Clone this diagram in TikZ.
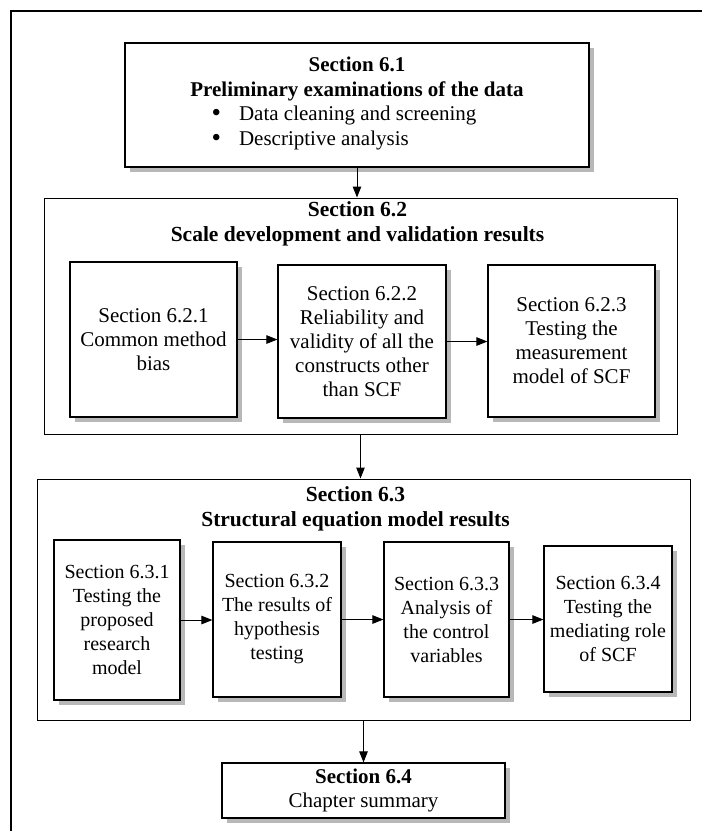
\documentclass[tikz,border=0pt]{standalone}
\usepackage{fontspec}
\setmainfont{Liberation Serif}
\usetikzlibrary{arrows.meta,shadows}

\newcommand{\bigdot}{\smash{\fontsize{27}{24}\selectfont\raisebox{-1pt}{\textbullet}}}

\begin{document}
\begin{tikzpicture}[x=1pt,y=-1pt,
  shbox/.style={draw, line width=1.2pt, fill=white, inner sep=2pt, align=center,
    drop shadow={shadow xshift=5pt, shadow yshift=-5pt, fill=black!28, opacity=1}},
  subtext/.style={font=\fontsize{20}{24}\selectfont},
  subtextl/.style={font=\fontsize{21}{24}\selectfont},
  headtext/.style={font=\fontsize{21.5}{24.5}\selectfont\bfseries, align=center, inner sep=0pt},
  group/.style={draw, line width=1pt},
  flow/.style={line width=1pt, -{Triangle[length=11pt, width=8.5pt]}}]

  % page extent
  \useasboundingbox (0,0) rectangle (702,831);
  \fill[white] (0,0) rectangle (702,831);

  % outer frame (only top and left edges are visible)
  \coordinate (fbl) at (11,840);
  \coordinate (ftl) at (11,11);
  \coordinate (ftr) at (710,11);
  \draw[line width=2pt] (fbl) -- (ftl) -- (ftr);

  % Section 6.1
  \node[shbox, minimum width=464pt, minimum height=124pt,
        font=\fontsize{21}{24.5}\selectfont] (b61) at (357,105)
    {\textbf{Section 6.1}\\ \textbf{Preliminary examinations of the data}\\
     \begin{tabular}[t]{@{}l@{\hspace{18pt}}l@{}}
       \bigdot & Data cleaning and screening\\
       \bigdot & Descriptive analysis
     \end{tabular}\rule{26pt}{0pt}};

  % Section 6.2 group
  \node[group, minimum width=633pt, minimum height=236pt] (c62) at (360.5,316) {};
  \node[headtext, anchor=north] (h62) at ([xshift=-3pt,yshift=-4pt]c62.north)
    {Section 6.2\\ Scale development and validation results};

  \node[shbox, subtextl, minimum width=167pt, minimum height=155pt] (b621) at (153.5,339.5)
    {Section 6.2.1\\ Common method\\ bias};
  \node[shbox, subtextl, minimum width=168pt, minimum height=153pt] (b622) at (362,341.5)
    {Section 6.2.2\\ Reliability and\\ validity of all the\\ constructs other\\ than SCF};
  \node[shbox, subtextl, minimum width=167pt, minimum height=152pt] (b623) at (571.5,341)
    {Section 6.2.3\\ Testing the\\ measurement\\ model of SCF};

  % Section 6.3 group
  \node[group, minimum width=653pt, minimum height=241pt] (c63) at (363.5,599.5) {};
  \node[headtext, anchor=north] (h63) at ([xshift=-8pt,yshift=-8pt]c63.north)
    {Section 6.3\\ Structural equation model results};

  \node[shbox, subtext, minimum width=126pt, minimum height=160pt] (b631) at (117,620)
    {Section 6.3.1\\ Testing the\\ proposed\\ research\\ model};
  \node[shbox, subtext, minimum width=128pt, minimum height=155pt] (b632) at (277,619.5)
    {Section 6.3.2\\ The results of\\ hypothesis\\ testing};
  \node[shbox, subtext, minimum width=125pt, minimum height=155pt] (b633) at (446.5,619.5)
    {Section 6.3.3\\ Analysis of\\ the control\\ variables};
  \node[shbox, subtext, minimum width=128pt, minimum height=146pt] (b634) at (608,619)
    {Section 6.3.4\\ Testing the\\ mediating role\\ of SCF};

  % Section 6.4
  \node[shbox, subtextl, minimum width=283pt, minimum height=55pt] (b64) at (363.5,790.5)
    {\textbf{Section 6.4}\\ Chapter summary};

  % connectors
  \draw[flow] (b61.south) -- (b61.south |- c62.north);
  \draw[flow] (c62.south) -- (c62.south |- c63.north);
  \draw[flow] (c63.south) -- (c63.south |- b64.north);

  \draw[flow] (b621.east) -- (b621.east -| b622.west);
  \draw[flow] (b622.east) -- (b622.east -| b623.west);

  \draw[flow] (b631.east) -- (b631.east -| b632.west);
  \draw[flow] (b632.east) -- (b632.east -| b633.west);
  \draw[flow] (b633.east) -- (b633.east -| b634.west);
\end{tikzpicture}
\end{document}
